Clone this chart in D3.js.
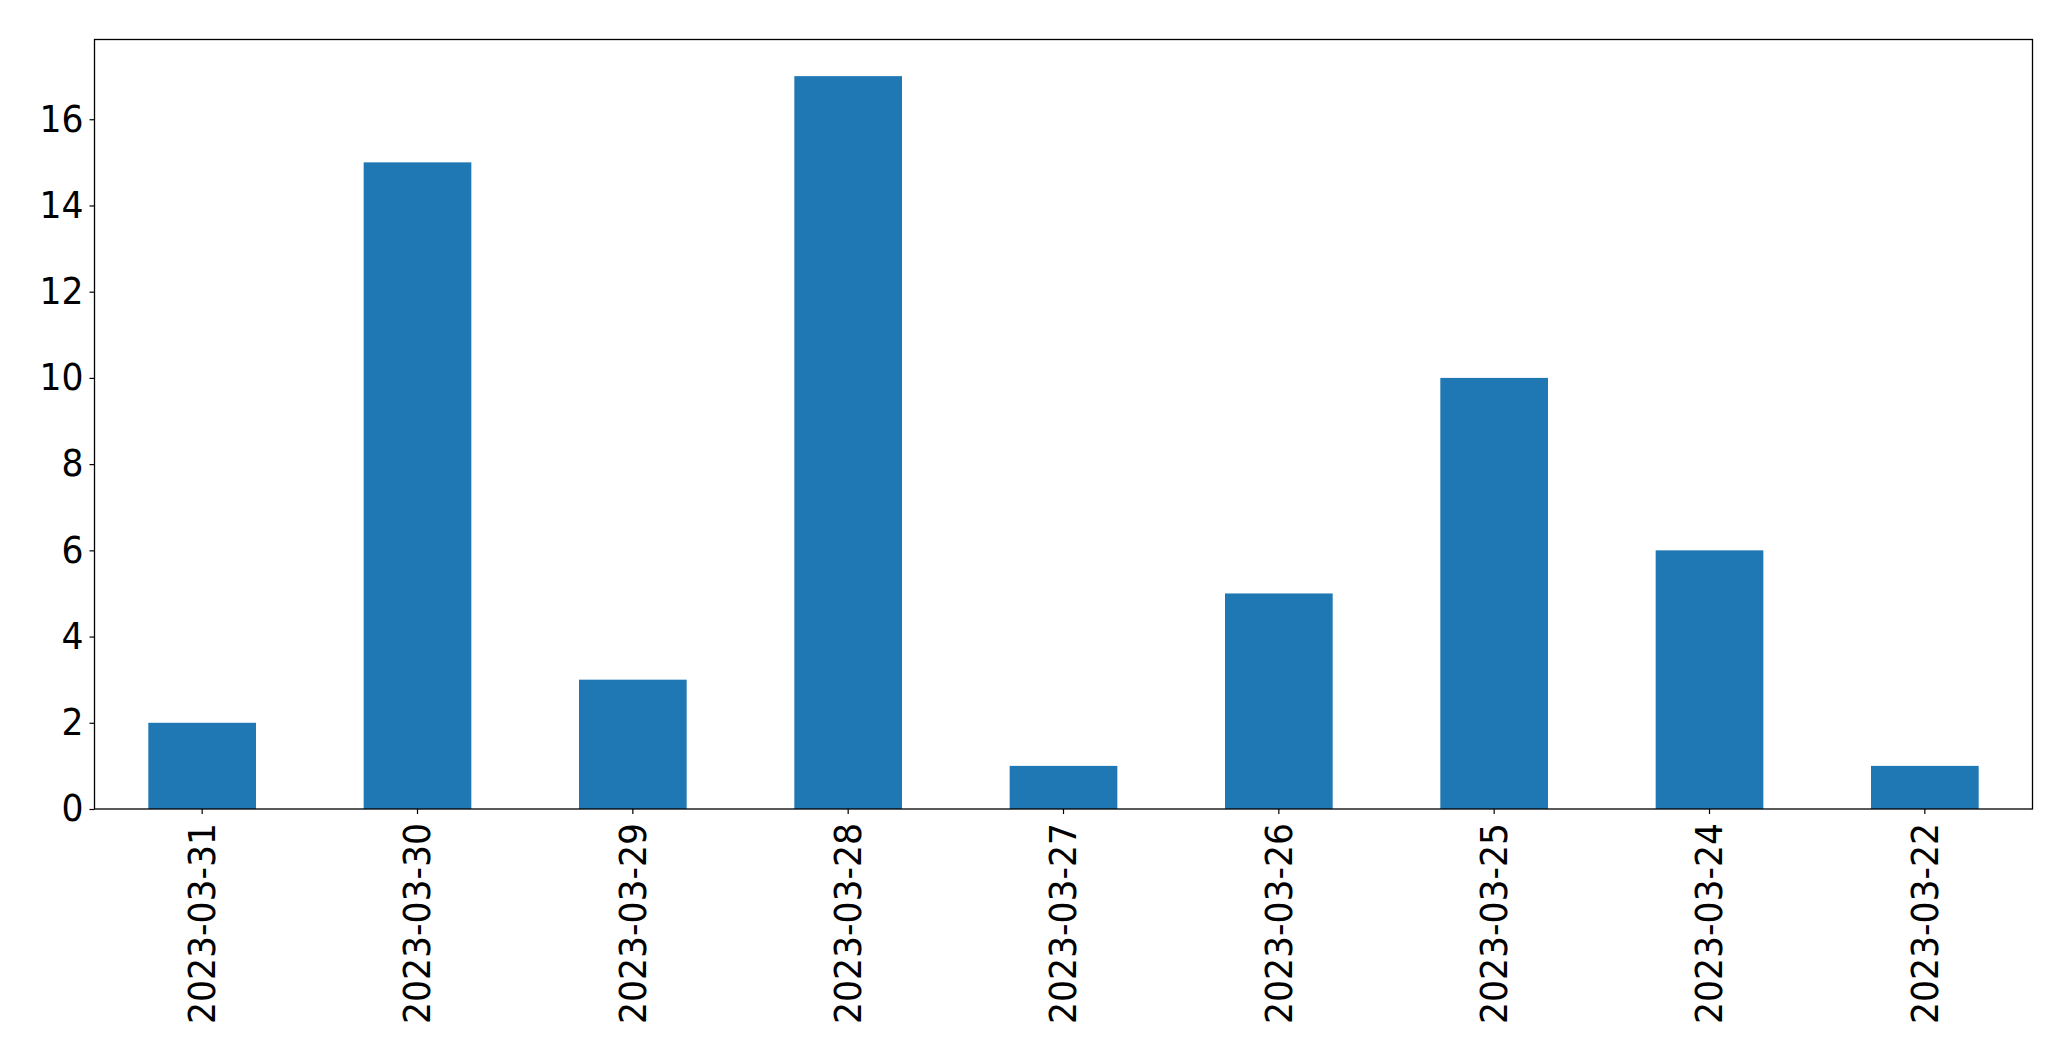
<!DOCTYPE html>
<html>
<head>
<meta charset="utf-8">
<script src="https://cdn.jsdelivr.net/npm/d3@7"></script>
<style>
  html, body { margin: 0; padding: 0; background: #fff; }
  svg { display: block; }
  text { font-family: "DejaVu Sans", sans-serif; fill: #000; }
</style>
</head>
<body>
<svg id="chart" width="2071" height="1061"></svg>
<script>
const categories = ["2023-03-31", "2023-03-30", "2023-03-29", "2023-03-28", "2023-03-27", "2023-03-26", "2023-03-25", "2023-03-24", "2023-03-22"];
const values = [2, 15, 3, 17, 1, 5, 10, 6, 1];
const yTicks = [0, 2, 4, 6, 8, 10, 12, 14, 16];

const W = 2071, H = 1061;
const margin = { left: 94.5, top: 39.5, right: W - 2032.5, bottom: H - 809 };
const iw = W - margin.left - margin.right;
const ih = H - margin.top - margin.bottom;

const svg = d3.select("#chart");
const g = svg.append("g").attr("transform", `translate(${margin.left},${margin.top})`);

const x = d3.scaleBand().domain(categories).range([0, iw]).paddingInner(0.5).paddingOuter(0.25);
const yMax = d3.max(values) * 1.05;
const y = d3.scaleLinear().domain([0, yMax]).range([ih, 0]);

g.selectAll("rect.bar").data(values).join("rect")
  .attr("class", "bar")
  .attr("x", (d, i) => x(categories[i]))
  .attr("width", x.bandwidth())
  .attr("y", d => y(d))
  .attr("height", d => y(0) - y(d))
  .attr("fill", "#1f77b4");

const fs = 37;
const sx = 0.935;

const yAxis = g.append("g").call(d3.axisLeft(y).tickValues(yTicks).tickSize(5).tickPadding(7).tickFormat(d3.format("d")));
yAxis.select(".domain").remove();
yAxis.selectAll(".tick line").attr("stroke", "#000").attr("stroke-width", 1.2);
yAxis.selectAll(".tick text")
  .style("font-size", fs + "px")
  .attr("font-family", "DejaVu Sans")
  .attr("x", 0)
  .attr("transform", `translate(-11,0) scale(${sx},1)`);

const xAxis = g.append("g").attr("transform", `translate(0,${ih})`)
  .call(d3.axisBottom(x).tickSize(5).tickPadding(8));
xAxis.select(".domain").remove();
xAxis.selectAll(".tick line").attr("stroke", "#000").attr("stroke-width", 1.2);
xAxis.selectAll(".tick text")
  .style("font-size", fs + "px")
  .attr("font-family", "DejaVu Sans")
  .attr("text-anchor", "end")
  .attr("dy", "0.35em")
  .attr("x", 0)
  .attr("y", 0)
  .attr("transform", `translate(0,14) rotate(-90) scale(${sx},1)`);

g.append("rect").attr("x", 0).attr("y", 0).attr("width", iw).attr("height", ih)
  .attr("fill", "none").attr("stroke", "#000").attr("stroke-width", 1.3);
</script>
</body>
</html>
